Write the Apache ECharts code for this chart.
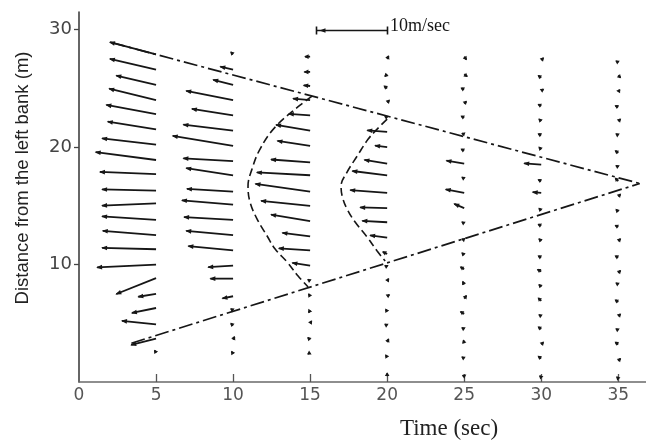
<!DOCTYPE html>
<html>
<head>
<meta charset="utf-8">
<script src="https://cdn.jsdelivr.net/npm/echarts@6/dist/echarts.min.js"></script>
<style>
  html, body { margin: 0; padding: 0; background: #fff; }
  #chart { width: 646px; height: 443px; }
</style>
</head>
<body>
<div id="chart"></div>
<script>
// Velocity vectors across the channel at each observation time.
// Each row: [distance from left bank (m), u (m/s, + downstream), v (m/s, + toward far bank)]
const vecT5 = [
  [27.9, -6.5, 1.7], [26.6, -6.5, 1.5], [25.3, -5.6, 1.3], [24.0, -6.6, 1.6],
  [22.8, -7.0, 1.3], [21.5, -6.8, 1.1], [20.2, -7.6, 0.9], [18.9, -8.5, 1.1],
  [17.7, -7.9, 0.3], [16.3, -7.6, 0.15], [15.2, -7.6, -0.3], [13.8, -7.6, 0.5],
  [12.5, -7.5, 0.6], [11.3, -7.6, 0.2], [10.0, -8.3, -0.4], [8.85, -5.6, -2.25],
  [7.5, -2.5, -0.4], [6.3, -3.4, -0.7], [4.9, -4.8, 0.5], [3.7, -3.5, -0.9],
  [2.5, -0.2, 0.3]
];
const vecT10 = [
  [27.9, -0.3, 0.3], [26.6, -1.8, 0.4], [25.3, -2.8, 0.7], [24.0, -6.6, 1.3],
  [22.7, -5.8, 0.9], [21.4, -7.0, 0.85], [20.1, -8.5, 1.4], [18.8, -7.0, 0.4],
  [17.6, -6.6, 1.0], [16.2, -6.5, 0.4], [15.1, -7.2, 0.6], [13.8, -6.9, 0.4],
  [12.5, -6.6, 0.6], [11.2, -6.3, 0.6], [9.9, -3.5, -0.2], [8.8, -3.2, 0.0],
  [7.3, -1.5, -0.3], [6.1, -0.3, 0.2], [4.8, -0.3, 0.3], [3.6, 0.2, 0.4],
  [2.4, -0.2, 0.3]
];
const vecT15 = [
  [27.7, -0.7, 0.0], [26.4, -0.8, 0.0], [25.2, -0.9, 0.1], [24.0, -2.4, 0.2],
  [22.7, -3.0, 0.2], [21.4, -4.8, 0.8], [20.1, -4.6, 0.7], [18.7, -5.5, 0.4],
  [17.6, -7.5, 0.4], [16.2, -7.7, 1.1], [15.0, -6.9, 0.7], [13.7, -5.5, 0.9],
  [12.4, -3.9, 0.5], [11.2, -4.4, 0.3], [9.9, -2.5, 0.4], [8.6, -0.3, 0.2],
  [7.3, -0.2, 0.3], [6.1, -0.2, -0.3], [5.0, 0.2, 0.3], [3.6, -0.3, 0.3],
  [2.5, -0.3, -0.2]
];
const vecT20 = [
  [27.5, 0.2, 0.4], [26.2, -0.3, -0.3], [25.0, -0.4, 0.3], [23.8, 0.3, 0.3],
  [22.5, -0.3, 0.2], [21.3, -2.8, 0.2], [20.0, -1.7, 0.2], [18.6, -3.2, 0.5],
  [17.6, -4.9, 0.6], [16.1, -5.2, 0.4], [14.8, -3.8, 0.1], [13.6, -3.5, 0.2],
  [12.3, -2.4, 0.3], [10.9, -0.6, 0.3], [9.8, -0.3, 0.2], [8.6, 0.2, 0.3],
  [7.3, 0.3, 0.2], [6.0, -0.2, 0.3], [4.8, -0.3, 0.2], [3.4, 0.2, 0.4],
  [2.1, -0.2, 0.3], [0.5, 0.0, 0.4]
];
const vecT25 = [
  [27.7, 0.3, -0.4], [26.2, 0.4, -0.3], [24.9, -0.4, 0.2], [23.7, 0.3, 0.3],
  [22.5, -0.4, 0.2], [21.1, -0.3, 0.1], [19.7, -0.4, 0.2], [18.6, -2.5, 0.4],
  [17.3, -0.3, 0.2], [16.1, -2.6, 0.5], [14.8, -1.4, 0.6], [13.5, -0.3, 0.2],
  [12.1, -0.3, 0.1], [10.8, -0.3, 0.3], [9.6, -0.5, 0.3], [8.3, -0.2, 0.4],
  [7.1, 0.3, 0.4], [5.8, -0.5, 0.3], [4.5, -0.3, 0.2], [3.3, -0.1, 0.4],
  [2.0, -0.3, 0.2], [0.5, -0.2, 0.1]
];
const vecT30 = [
  [27.4, 0.3, 0.3], [25.9, -0.4, 0.3], [24.8, 0.3, 0.2], [23.5, -0.4, 0.2],
  [22.2, -0.3, 0.3], [21.0, -0.4, 0.2], [19.8, -0.3, 0.3], [18.5, -2.4, 0.2],
  [17.1, -0.4, 0.2], [16.1, -1.2, 0.1], [14.6, -0.3, 0.3], [13.3, -0.4, 0.2],
  [12.0, -0.3, 0.3], [10.6, -0.4, 0.2], [9.4, -0.5, 0.3], [8.1, -0.3, 0.3],
  [6.9, -0.4, 0.4], [5.6, -0.3, 0.2], [4.5, -0.4, 0.3], [3.2, 0.3, 0.3],
  [2.0, -0.4, 0.3], [0.4, -0.2, 0.2]
];
const vecT35 = [
  [27.2, -0.3, 0.2], [26.1, 0.3, -0.3], [24.7, 0.2, 0.3], [23.4, -0.4, 0.2],
  [22.2, 0.3, 0.3], [21.0, -0.3, 0.2], [19.5, -0.4, 0.3], [18.3, -0.3, 0.2],
  [17.1, -0.4, 0.4], [15.8, 0.3, 0.3], [14.5, -0.3, 0.3], [13.2, -0.4, 0.2],
  [12.0, 0.3, 0.3], [10.6, -0.4, 0.2], [9.3, 0.3, 0.3], [8.3, -0.3, 0.2],
  [6.8, -0.4, 0.3], [5.6, 0.3, 0.3], [4.4, -0.3, 0.2], [3.2, -0.4, 0.3],
  [1.8, 0.3, 0.3], [0.3, -0.2, 0.2]
];
const obsTimes = [5, 10, 15, 20, 25, 30, 35];

// Edges of the disturbed zone and the wave fronts at t = 15 s and t = 20 s: [time (s), distance (m)]
const upperEdge = [[2.1, 28.9], [36.4, 16.9]];
const lowerEdge = [[3.4, 3.3], [36.4, 16.9]];
const front15 = [
  [15.13, 24.34], [14.35, 23.57], [12.73, 21.70], [11.75, 19.83], [11.23, 18.13],
  [10.97, 16.68], [11.10, 15.32], [11.56, 13.87], [12.21, 12.43], [12.73, 11.32],
  [13.51, 10.21], [14.22, 9.02], [14.87, 8.09]
];
const front20 = [
  [20.0, 22.38], [19.35, 21.53], [18.77, 20.68], [18.05, 19.23], [17.40, 17.87],
  [17.01, 16.68], [17.08, 15.83], [17.40, 14.72], [17.92, 13.62], [18.70, 12.34],
  [19.35, 11.15], [19.87, 10.30]
];

// Axis ticks and labels
const timeTicks = [0, 5, 10, 15, 20, 25, 30, 35];
const timeMarks = [5, 10, 15, 20, 25, 30, 35];
const distTicks = [10, 20, 30];

// Reference vector shown at the top
const refSpeed = 10;           // m/s
const refLabel = '10m/sec';
const PX_PER_MS = 7.1;         // drawn length of 1 m/s

const INK = '#161616';

const vectorRows = [];
[vecT5, vecT10, vecT15, vecT20, vecT25, vecT30, vecT35].forEach((col, i) => {
  col.forEach(r => vectorRows.push([obsTimes[i], r[0], r[1], r[2]]));
});

function renderVector(params, api) {
  const p = api.coord([api.value(0), api.value(1)]);
  const u = api.value(2), v = api.value(3);
  const hx = p[0] + u * PX_PER_MS;
  const hy = p[1] - v * PX_PER_MS;
  const len = Math.hypot(hx - p[0], hy - p[1]);
  const ux = len > 0 ? (hx - p[0]) / len : -1;
  const uy = len > 0 ? (hy - p[1]) / len : 0;
  const hl = Math.min(5, Math.max(2.8, len * 0.7));
  const hw = 2.3;
  const bx = hx - ux * hl, by = hy - uy * hl;
  return {
    type: 'group',
    children: [
      { type: 'line', shape: { x1: p[0], y1: p[1], x2: hx, y2: hy },
        style: { stroke: INK, lineWidth: 1.8 } },
      { type: 'polygon',
        shape: { points: [[hx + ux, hy + uy], [bx - uy * hw, by + ux * hw], [bx + uy * hw, by - ux * hw]] },
        style: { fill: INK } }
    ]
  };
}

function dashedLine(data, dash, width) {
  return {
    type: 'line', data: data, showSymbol: false, symbol: 'none', silent: true,
    clip: false, z: 3,
    lineStyle: { color: INK, width: width, type: dash }
  };
}

const chart = echarts.init(document.getElementById('chart'), null, { renderer: 'canvas' });
const refLen = refSpeed * PX_PER_MS;
const refX = 314, refY = 28;

chart.setOption({
  animation: false,
  backgroundColor: '#ffffff',
  grid: { left: 79, right: 0, top: 12, bottom: 61 },
  xAxis: {
    type: 'value', min: 0, max: 36.8,
    axisLine: { show: true, onZero: false, lineStyle: { color: '#6a6a6a', width: 1.5 } },
    axisTick: { show: true, inside: true, length: 8, customValues: timeMarks,
      lineStyle: { color: '#555', width: 1.3 } },
    axisLabel: { customValues: timeTicks, color: '#555', fontSize: 17, margin: 5,
      fontFamily: 'DejaVu Sans' },
    splitLine: { show: false }
  },
  yAxis: {
    type: 'value', min: 0, max: 31.5,
    axisLine: { show: true, onZero: false, lineStyle: { color: '#333', width: 1.5 } },
    axisTick: { show: true, length: 5, customValues: distTicks,
      lineStyle: { color: '#444', width: 1.3 } },
    axisLabel: { customValues: distTicks, color: '#444', fontSize: 18, margin: 7,
      fontFamily: 'DejaVu Sans' },
    splitLine: { show: false }
  },
  series: [
    {
      type: 'custom', data: vectorRows, renderItem: renderVector, clip: false, z: 4,
      encode: { x: 0, y: 1 }, silent: true
    },
    dashedLine(upperEdge, [14, 4, 3, 4], 1.7),
    dashedLine(lowerEdge, [14, 4, 3, 4], 1.7),
    Object.assign(dashedLine(front15, [8, 4], 1.6), { smooth: 0.4 }),
    Object.assign(dashedLine(front20, [8, 4], 1.6), { smooth: 0.4 })
  ],
  graphic: [
    {
      type: 'group', left: refX, top: refY - 4,
      children: [
        { type: 'line', shape: { x1: 0, y1: 4, x2: refLen, y2: 4 }, style: { stroke: INK, lineWidth: 1.4 } },
        { type: 'line', shape: { x1: 0, y1: 0, x2: 0, y2: 8 }, style: { stroke: INK, lineWidth: 1.6 } },
        { type: 'line', shape: { x1: refLen, y1: 0, x2: refLen, y2: 8 }, style: { stroke: INK, lineWidth: 1.6 } },
        { type: 'polygon', shape: { points: [[3, 4], [9, 1.8], [9, 6.2]] }, style: { fill: INK } }
      ]
    },
    {
      type: 'text', left: refX + refLen + 5, top: refY - 11,
      style: { text: refLabel, font: '18px "Liberation Serif"', fill: INK }
    },
    {
      type: 'text', x: 23, y: 178, rotation: Math.PI / 2,
      style: { text: 'Distance from the left bank (m)', font: '18.5px "Liberation Sans"',
        fill: '#222', align: 'center', verticalAlign: 'middle' }
    },
    {
      type: 'text', x: 449, y: 429,
      style: { text: 'Time (sec)', font: '23px "Liberation Serif"', fill: '#222',
        align: 'center', verticalAlign: 'middle' }
    }
  ]
});
</script>
</body>
</html>
